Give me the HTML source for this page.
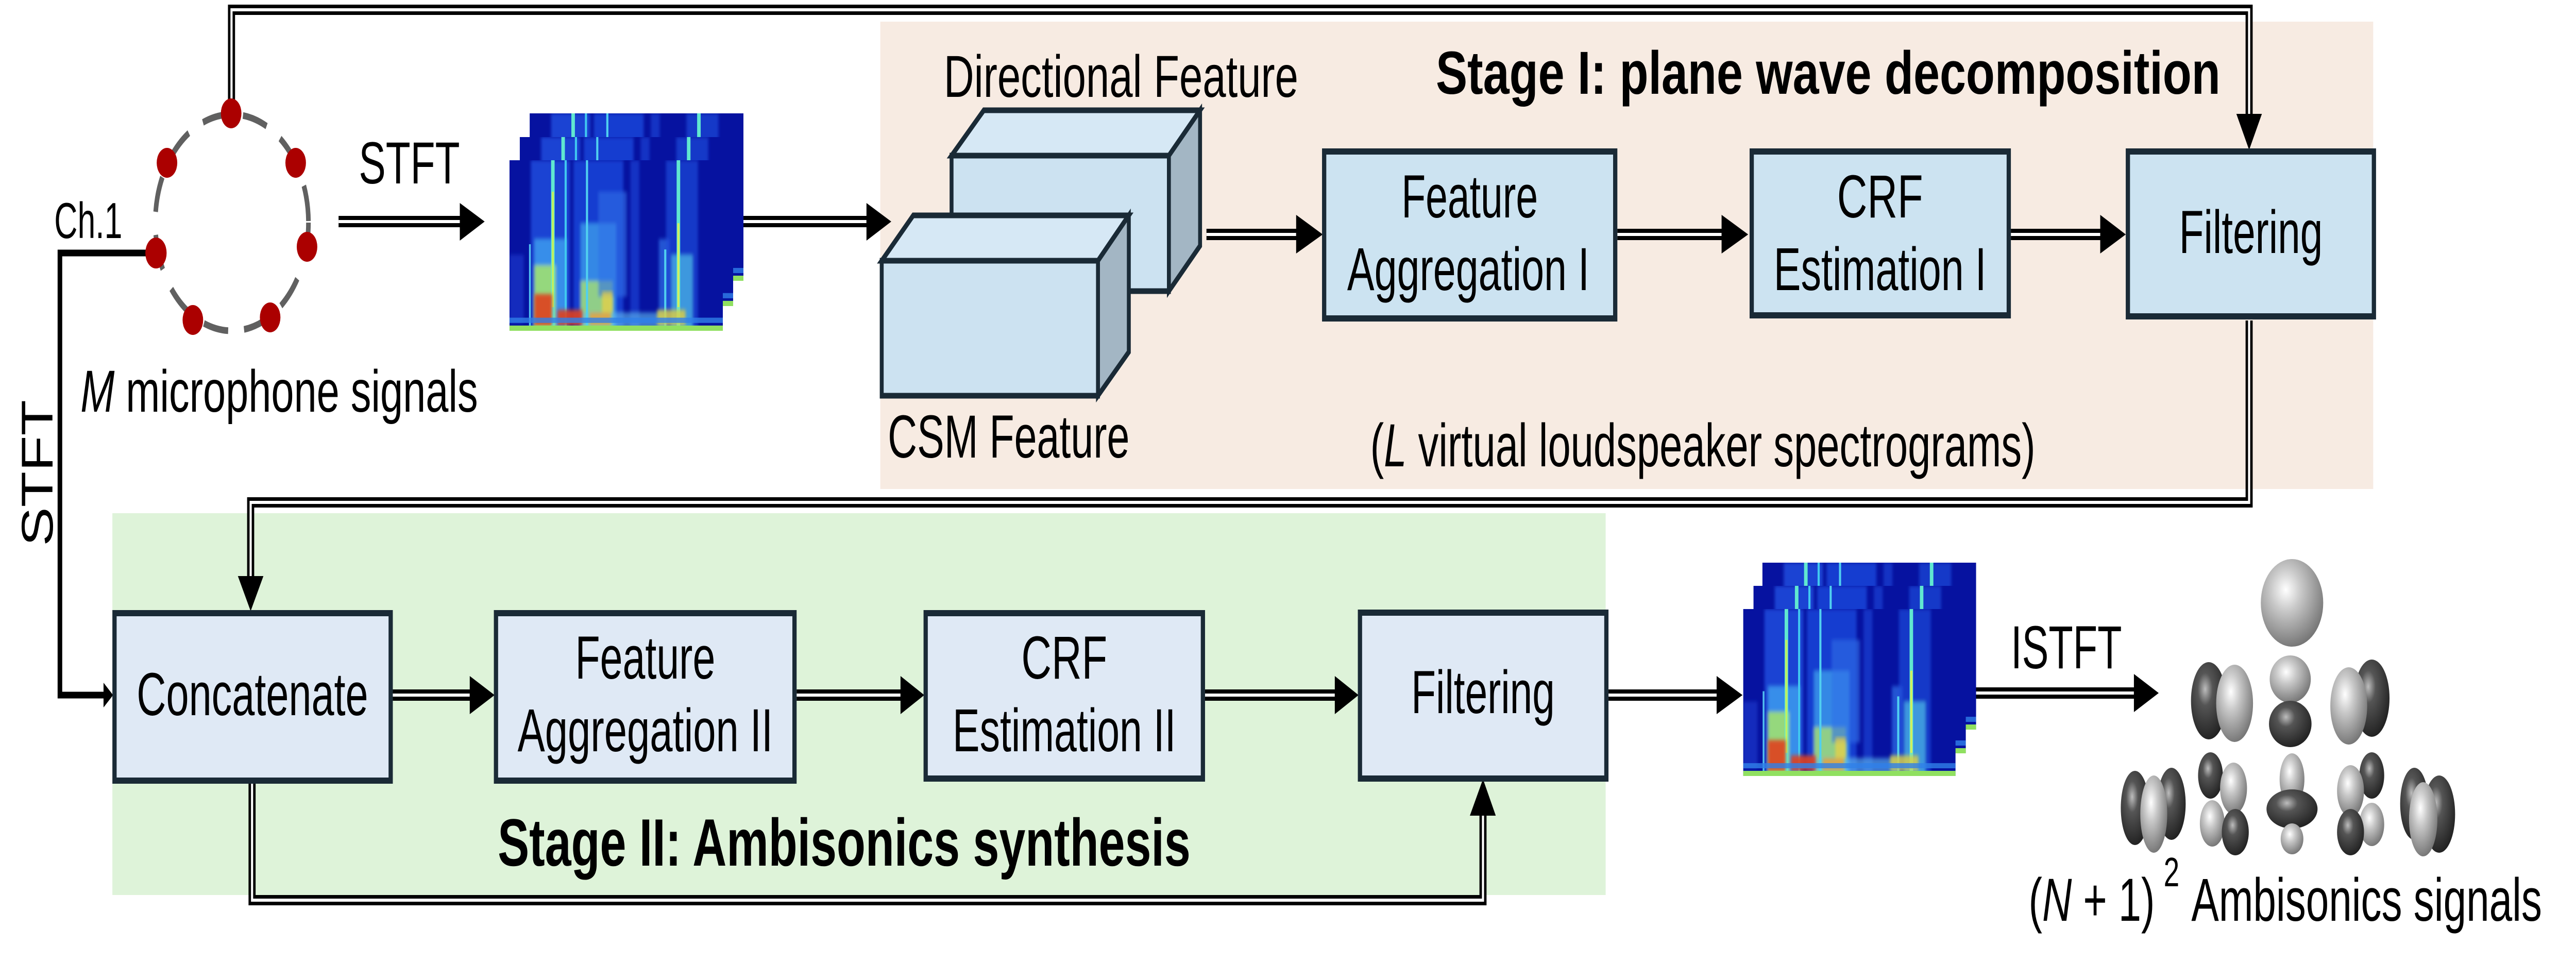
<!DOCTYPE html>
<html><head><meta charset="utf-8"><style>
html,body{margin:0;padding:0;background:#fff;overflow:hidden;width:100%;height:100%;}
svg{display:block;position:absolute;left:0;top:0;width:100vw;height:100vh;}
text{font-family:"Liberation Sans",Arial,sans-serif;fill:#000;}
</style></head><body>
<svg viewBox="0 0 7266 1900" preserveAspectRatio="none" xmlns="http://www.w3.org/2000/svg">
<defs>
<filter id="bl" x="-5%" y="-5%" width="110%" height="110%"><feGaussianBlur stdDeviation="4"/></filter>
<clipPath id="sc"><rect x="0" y="0" width="600" height="325"/></clipPath>
<symbol id="spec" viewBox="0 0 600 325" width="600" height="325" preserveAspectRatio="none">
<rect x="0" y="0" width="600" height="325" fill="#0612a0"/>
<g clip-path="url(#sc)" filter="url(#bl)">
<rect x="0" y="180" width="40" height="130" fill="#1a3cd0" opacity="0.6"/>
<rect x="60" y="0" width="110" height="325" fill="#2050e0" opacity="0.8"/>
<rect x="70" y="150" width="90" height="175" fill="#40a0f0" opacity="0.8"/>
<rect x="70" y="200" width="60" height="125" fill="#a0e070" opacity="0.9"/>
<rect x="180" y="0" width="140" height="325" fill="#1d48dc" opacity="0.8"/>
<rect x="200" y="120" width="100" height="205" fill="#40a8f0" opacity="0.7"/>
<rect x="200" y="230" width="90" height="95" fill="#a8e070" opacity="0.8"/>
<rect x="250" y="60" width="80" height="200" fill="#3070e8" opacity="0.6"/>
<rect x="340" y="0" width="25" height="325" fill="#1d48dc" opacity="0.6"/>
<rect x="420" y="150" width="30" height="175" fill="#3070e8" opacity="0.7"/>
<rect x="440" y="0" width="90" height="325" fill="#1d4ad8" opacity="0.7"/>
<rect x="455" y="180" width="60" height="145" fill="#50c0e8" opacity="0.7"/>
<rect x="200" y="290" width="240" height="30" fill="#60c0f0" opacity="0.6"/>
</g>
<rect x="117" y="0" width="10" height="325" fill="#60e8d0"/>
<rect x="119" y="60" width="6" height="220" fill="#c0f060"/>
<rect x="155" y="0" width="6" height="325" fill="#40c8f0"/>
<rect x="215" y="0" width="6" height="325" fill="#50d0f0"/>
<rect x="470" y="0" width="10" height="325" fill="#60e8d0"/>
<rect x="472" y="120" width="6" height="160" fill="#d0f060"/>
<rect x="435" y="170" width="6" height="155" fill="#50d0f0"/>
<rect x="55" y="160" width="5" height="165" fill="#50c0f0"/>
<g filter="url(#bl)">
<rect x="70" y="255" width="50" height="60" fill="#e04020" opacity="0.9"/>
<rect x="135" y="285" width="70" height="30" fill="#e04020" opacity="0.9"/>
<rect x="225" y="290" width="60" height="25" fill="#f0a030" opacity="0.8"/>
<rect x="260" y="250" width="30" height="40" fill="#f0d040" opacity="0.7"/>
<rect x="415" y="285" width="80" height="30" fill="#e0d040" opacity="0.8"/>
</g>
<rect x="0" y="300" width="600" height="10" fill="#3080e8" opacity="0.8"/>
<rect x="0" y="315" width="600" height="10" fill="#90e060"/>
</symbol>
<radialGradient id="gl" cx="0.4" cy="0.35" r="0.7"><stop offset="0" stop-color="#ffffff"/><stop offset="0.35" stop-color="#c8c8c8"/><stop offset="1" stop-color="#707070"/></radialGradient>
<radialGradient id="gd" cx="0.4" cy="0.35" r="0.7"><stop offset="0" stop-color="#bdbdbd"/><stop offset="0.3" stop-color="#555"/><stop offset="1" stop-color="#1e1e1e"/></radialGradient>
</defs>

<rect x="2483" y="42" width="4211" height="907" fill="#f7ebe2"/>
<rect x="317" y="996" width="4212" height="741" fill="#def3d9"/>

<g fill="none" stroke-linejoin="miter" stroke-miterlimit="10">
<path d="M653,196 L653,19 L6344,19 L6344,225" stroke="#000" stroke-width="20"/>
<path d="M653,196 L653,19 L6344,19 L6344,225" stroke="#fff" stroke-width="6"/>
<path d="M6344,622 L6344,975 L707,975 L707,1120" stroke="#000" stroke-width="20"/>
<path d="M6344,622 L6344,975 L707,975 L707,1120" stroke="#fff" stroke-width="6"/>
<path d="M711,1521 L711,1747 L4183,1747 L4183,1580" stroke="#000" stroke-width="20"/>
<path d="M711,1521 L711,1747 L4183,1747 L4183,1580" stroke="#fff" stroke-width="6"/>
</g>
<g stroke-width="22">
<line x1="955" y1="430" x2="1305" y2="430" stroke="#000"/>
<line x1="2097" y1="430" x2="2450" y2="430" stroke="#000"/>
<line x1="3403" y1="455" x2="3662" y2="455" stroke="#000"/>
<line x1="4562" y1="455" x2="4862" y2="455" stroke="#000"/>
<line x1="5672" y1="455" x2="5930" y2="455" stroke="#000"/>
<line x1="1108" y1="1349" x2="1330" y2="1349" stroke="#000"/>
<line x1="2247" y1="1349" x2="2545" y2="1349" stroke="#000"/>
<line x1="3399" y1="1349" x2="3770" y2="1349" stroke="#000"/>
<line x1="4537" y1="1349" x2="4848" y2="1349" stroke="#000"/>
<line x1="5521" y1="1345" x2="6025" y2="1345" stroke="#000"/>
</g>
<g stroke-width="6" stroke="#fff">
<line x1="955" y1="430" x2="1297" y2="430"/>
<line x1="2097" y1="430" x2="2444" y2="430"/>
<line x1="3403" y1="455" x2="3656" y2="455"/>
<line x1="4562" y1="455" x2="4856" y2="455"/>
<line x1="5672" y1="455" x2="5924" y2="455"/>
<line x1="1108" y1="1349" x2="1325" y2="1349"/>
<line x1="2247" y1="1349" x2="2540" y2="1349"/>
<line x1="3399" y1="1349" x2="3765" y2="1349"/>
<line x1="4537" y1="1349" x2="4842" y2="1349"/>
<line x1="5521" y1="1345" x2="6019" y2="1345"/>
</g>
<g fill="#000">
<polygon points="1297,394 1367,430 1297,467"/>
<polygon points="2444,394 2514,430 2444,467"/>
<polygon points="3656,417 3731,455 3656,492"/>
<polygon points="4856,417 4931,455 4856,492"/>
<polygon points="5924,417 5996,455 5924,492"/>
<polygon points="1325,1312 1395,1349 1325,1386"/>
<polygon points="2540,1312 2607,1349 2540,1386"/>
<polygon points="3765,1312 3832,1349 3765,1386"/>
<polygon points="4842,1312 4915,1349 4842,1386"/>
<polygon points="6019,1308 6089,1345 6019,1382"/>
<polygon points="6308,221 6380,221 6344,291"/>
<polygon points="671,1118 743,1118 707,1186"/>
<polygon points="4146,1583 4219,1583 4183,1512"/>
</g>

<polyline points="440,491 169,491 169,1349 295,1349" fill="none" stroke="#000" stroke-width="13"/>
<polygon points="292,1325 319,1349 292,1373" fill="#000"/>

<ellipse cx="654" cy="432" rx="216" ry="210" fill="none" stroke="#606060" stroke-width="13" stroke-dasharray="70 45"/>
<g fill="#ab0000">
<circle cx="652" cy="220" r="29"/><circle cx="471" cy="316" r="29"/><circle cx="834" cy="316" r="29"/>
<circle cx="440" cy="491" r="30"/><circle cx="866" cy="479" r="29"/><circle cx="544" cy="621" r="29"/><circle cx="762" cy="616" r="29"/>
</g>

<use href="#spec" x="1494" y="220" width="603" height="325"/>
<use href="#spec" x="1466" y="266" width="602" height="328"/>
<use href="#spec" x="1437" y="311" width="602" height="331"/>
<use href="#spec" x="4971" y="1092" width="603" height="324"/>
<use href="#spec" x="4946" y="1137" width="599" height="325"/>
<use href="#spec" x="4917" y="1182" width="599" height="324"/>

<g stroke="#1a2a36" stroke-width="11" stroke-linejoin="miter">
<polygon points="2684,302 2775,214 3385,214 3297,302" fill="#d6e8f5"/>
<polygon points="3297,302 3385,214 3385,477 3297,565" fill="#a3b6c4"/>
<rect x="2684" y="302" width="613" height="263" fill="#cce2f1"/>
<polygon points="2487,506 2576,418 3184,418 3097,506" fill="#d6e8f5"/>
<polygon points="3097,506 3184,418 3184,683 3097,768" fill="#a3b6c4"/>
<rect x="2487" y="506" width="610" height="262" fill="#cce2f1"/>
</g>

<g stroke="#1a2a36" stroke-width="12">
<rect x="3735" y="294" width="821" height="324" fill="#cce3f1"/>
<rect x="4941" y="294" width="725" height="318" fill="#cce3f1"/>
<rect x="6002" y="294" width="694" height="320" fill="#cce3f1"/>
<rect x="323" y="1190" width="779" height="325" fill="#dfe9f5"/>
<rect x="1399" y="1190" width="842" height="325" fill="#dfe9f5"/>
<rect x="2611" y="1190" width="782" height="321" fill="#dfe9f5"/>
<rect x="3836" y="1189" width="695" height="322" fill="#dfe9f5"/>
</g>

<g>
<ellipse cx="6465" cy="1170" rx="88" ry="85" fill="url(#gl)"/>
<ellipse cx="6230" cy="1360" rx="50" ry="75" fill="url(#gd)"/>
<ellipse cx="6303" cy="1365" rx="52" ry="75" fill="url(#gl)"/>
<ellipse cx="6460" cy="1318" rx="58" ry="46" fill="url(#gl)"/>
<ellipse cx="6460" cy="1405" rx="60" ry="45" fill="url(#gd)"/>
<ellipse cx="6690" cy="1355" rx="50" ry="75" fill="url(#gd)"/>
<ellipse cx="6625" cy="1370" rx="52" ry="75" fill="url(#gl)"/>
<ellipse cx="6022" cy="1568" rx="40" ry="72" fill="url(#gd)"/>
<ellipse cx="6125" cy="1560" rx="40" ry="70" fill="url(#gd)"/>
<ellipse cx="6075" cy="1580" rx="38" ry="75" fill="url(#gl)"/>
<ellipse cx="6235" cy="1505" rx="35" ry="45" fill="url(#gd)"/>
<ellipse cx="6300" cy="1530" rx="38" ry="50" fill="url(#gl)"/>
<ellipse cx="6240" cy="1598" rx="35" ry="45" fill="url(#gl)"/>
<ellipse cx="6305" cy="1615" rx="38" ry="45" fill="url(#gd)"/>
<ellipse cx="6465" cy="1512" rx="35" ry="50" fill="url(#gl)"/>
<ellipse cx="6465" cy="1570" rx="72" ry="38" fill="url(#gd)"/>
<ellipse cx="6465" cy="1628" rx="32" ry="30" fill="url(#gl)"/>
<ellipse cx="6690" cy="1505" rx="35" ry="45" fill="url(#gd)"/>
<ellipse cx="6630" cy="1535" rx="38" ry="50" fill="url(#gl)"/>
<ellipse cx="6690" cy="1600" rx="35" ry="42" fill="url(#gl)"/>
<ellipse cx="6630" cy="1615" rx="38" ry="45" fill="url(#gd)"/>
<ellipse cx="6810" cy="1560" rx="40" ry="70" fill="url(#gd)"/>
<ellipse cx="6880" cy="1580" rx="45" ry="75" fill="url(#gd)"/>
<ellipse cx="6835" cy="1590" rx="40" ry="72" fill="url(#gl)"/>
</g>

<text x="153" y="462" font-size="98" textLength="192" lengthAdjust="spacingAndGlyphs">Ch.1</text>
<text x="1012" y="356" font-size="115" textLength="285" lengthAdjust="spacingAndGlyphs">STFT</text>
<text x="227" y="799" font-size="115" textLength="1121" lengthAdjust="spacingAndGlyphs"><tspan font-style="italic">M</tspan> microphone signals</text>
<text transform="translate(148,1060) rotate(-90)" font-size="125" textLength="284" lengthAdjust="spacingAndGlyphs">STFT</text>
<text x="2662" y="188" font-size="115" textLength="1000" lengthAdjust="spacingAndGlyphs">Directional Feature</text>
<text x="2504" y="888" font-size="118" textLength="682" lengthAdjust="spacingAndGlyphs">CSM Feature</text>
<text x="4050" y="182" font-size="118" font-weight="bold" textLength="2213" lengthAdjust="spacingAndGlyphs">Stage I: plane wave decomposition</text>
<text x="3953" y="422" font-size="118" textLength="385" lengthAdjust="spacingAndGlyphs">Feature</text>
<text x="3800" y="563" font-size="118" textLength="683" lengthAdjust="spacingAndGlyphs">Aggregation I</text>
<text x="5303" y="422" font-size="118" text-anchor="middle">CRF</text>
<text x="5303" y="563" font-size="118" text-anchor="middle" textLength="600" lengthAdjust="spacingAndGlyphs">Estimation I</text>
<text x="6349" y="491" font-size="118" text-anchor="middle" textLength="405" lengthAdjust="spacingAndGlyphs">Filtering</text>
<text x="3865" y="905" font-size="118" textLength="1876" lengthAdjust="spacingAndGlyphs">(<tspan font-style="italic">L</tspan> virtual loudspeaker spectrograms)</text>
<text x="712" y="1388" font-size="118" text-anchor="middle" textLength="653" lengthAdjust="spacingAndGlyphs">Concatenate</text>
<text x="1820" y="1317" font-size="118" text-anchor="middle" textLength="395" lengthAdjust="spacingAndGlyphs">Feature</text>
<text x="1820" y="1458" font-size="118" text-anchor="middle" textLength="720" lengthAdjust="spacingAndGlyphs">Aggregation II</text>
<text x="3002" y="1317" font-size="118" text-anchor="middle">CRF</text>
<text x="3002" y="1458" font-size="118" text-anchor="middle" textLength="630" lengthAdjust="spacingAndGlyphs">Estimation II</text>
<text x="4183" y="1384" font-size="118" text-anchor="middle" textLength="405" lengthAdjust="spacingAndGlyphs">Filtering</text>
<text x="1404" y="1680" font-size="130" font-weight="bold" textLength="1954" lengthAdjust="spacingAndGlyphs">Stage II: Ambisonics synthesis</text>
<text x="5672" y="1297" font-size="118" textLength="313" lengthAdjust="spacingAndGlyphs">ISTFT</text>
<text x="5722" y="1787" font-size="118" font-family="Liberation Serif, serif" textLength="356" lengthAdjust="spacingAndGlyphs">(<tspan font-style="italic">N</tspan> + 1)</text>
<text x="6103" y="1720" font-size="80" font-family="Liberation Serif, serif">2</text>
<text x="6181" y="1787" font-size="118" textLength="989" lengthAdjust="spacingAndGlyphs">Ambisonics signals</text>
</svg>
</body></html>
